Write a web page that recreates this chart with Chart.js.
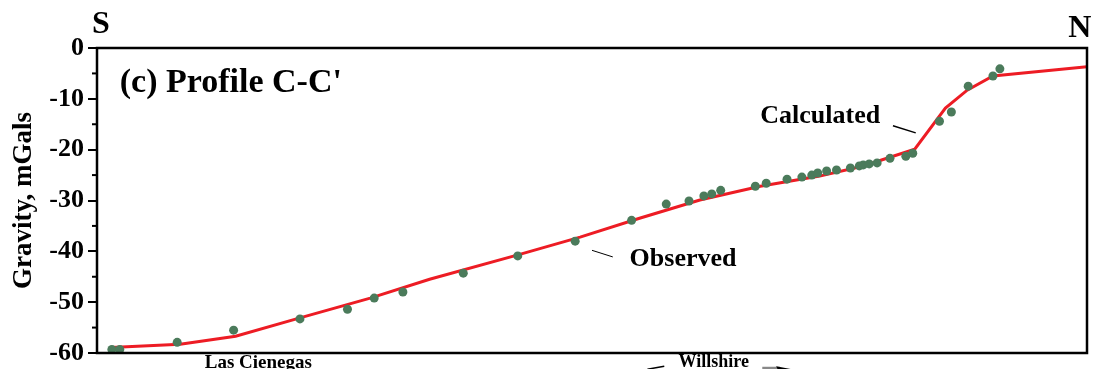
<!DOCTYPE html>
<html>
<head>
<meta charset="utf-8">
<script src="https://cdn.jsdelivr.net/npm/chart.js@4"></script>
<style>
  html, body { margin: 0; padding: 0; background: #fff; }
  #wrap { width: 1096px; height: 369px; }
</style>
</head>
<body>
<div id="wrap"><canvas id="gravityChart" width="1096" height="369"></canvas></div>
<script>
// Profile C-C' - distance along profile (0-100, S to N) and gravity (mGal)
const obsDist = [1.5, 2.3, 8.1, 13.8, 20.5, 25.3, 28.0, 30.9, 37.0, 42.5, 48.3, 54.0,
    57.5, 59.8, 61.3, 62.1, 63.0, 66.5, 67.6, 69.7, 71.2, 72.2, 72.8, 73.7, 74.7,
    76.1, 77.0, 77.4, 78.0, 78.8, 80.1, 81.7, 82.4, 85.1, 86.3, 88.0, 90.5, 91.2];
const obsGrav = [-59.3, -59.3, -57.9, -55.5, -53.3, -51.4, -49.2, -48.0, -44.3, -40.9, -38.0, -33.9,
    -30.7, -30.1, -29.1, -28.7, -28.0, -27.2, -26.6, -25.8, -25.4, -25.0, -24.6, -24.2, -24.0,
    -23.6, -23.2, -23.0, -22.8, -22.6, -21.7, -21.3, -20.7, -14.4, -12.6, -7.5, -5.5, -4.1];

const calcDist = [1.4, 8.4, 14.0, 20.5, 27.6, 33.6, 42.7, 48.8, 54.8, 60.9, 67.0, 73.0,
    77.4, 80.1, 82.6, 85.7, 87.9, 90.5, 100];
const calcGrav = [-58.9, -58.3, -56.7, -53.1, -49.2, -45.5, -40.6, -37.2, -33.5, -29.9, -27.2, -25.2,
    -23.2, -21.5, -19.9, -11.8, -8.3, -5.5, -3.7];

const yMin = -60;
const yMax = 0;

const serif = "'Liberation Serif', 'Times New Roman', serif";

function toPoints(xs, ys) {
    return xs.map((x, i) => ({ x: x, y: ys[i] }));
}

// frame, minor ticks and text labels
const decorations = {
    id: 'decorations',
    afterDraw(chart) {
        const ctx = chart.ctx;
        const a = chart.chartArea;
        const xs = chart.scales.x;
        const ys = chart.scales.y;
        const px = v => xs.getPixelForValue(v);
        const py = v => ys.getPixelForValue(v);

        ctx.save();
        ctx.strokeStyle = '#000';
        ctx.lineWidth = 2.5;
        ctx.strokeRect(a.left, a.top, a.right - a.left, a.bottom - a.top);

        // minor ticks
        ctx.lineWidth = 2;
        for (let v = yMin + 5; v < yMax; v += 10) {
            ctx.beginPath();
            ctx.moveTo(a.left - 5, py(v));
            ctx.lineTo(a.left, py(v));
            ctx.stroke();
        }

        ctx.fillStyle = '#000';
        ctx.textBaseline = 'alphabetic';
        ctx.textAlign = 'left';
        ctx.font = 'bold 32px ' + serif;
        ctx.fillText('S', px(-0.5), py(2.9));
        ctx.fillText('N', px(98.1), py(2.2));

        ctx.font = 'bold 34px ' + serif;
        ctx.fillText("(c) Profile C-C'", px(2.3), py(-8.6));

        ctx.font = 'bold 26px ' + serif;
        ctx.fillText('Calculated', px(67.0), py(-14.8));
        ctx.fillText('Observed', px(53.8), py(-42.9));

        // leader lines
        ctx.lineWidth = 1.5;
        ctx.beginPath();
        ctx.moveTo(px(80.4), py(-15.3));
        ctx.lineTo(px(82.7), py(-16.7));
        ctx.stroke();
        ctx.lineWidth = 1;
        ctx.beginPath();
        ctx.moveTo(px(50.0), py(-39.8));
        ctx.lineTo(px(52.1), py(-41.1));
        ctx.stroke();

        // place names under the axis
        ctx.textAlign = 'center';
        ctx.font = 'bold 19px ' + serif;
        ctx.fillText('Las Cienegas', px(16.3), py(-63.0));
        ctx.font = 'bold 18px ' + serif;
        ctx.fillText('Willshire', px(62.3), py(-62.8));

        // arrows beside Willshire
        ctx.lineWidth = 1.5;
        ctx.beginPath();
        ctx.moveTo(px(57.3), py(-62.6));
        ctx.lineTo(px(55.6), py(-63.2));
        ctx.stroke();
        ctx.strokeStyle = '#888';
        ctx.lineWidth = 3;
        ctx.beginPath();
        ctx.moveTo(px(67.2), py(-63.0));
        ctx.lineTo(px(69.0), py(-63.0));
        ctx.stroke();
        ctx.fillStyle = '#000';
        ctx.beginPath();
        ctx.moveTo(px(70.2), py(-63.2));
        ctx.lineTo(px(68.6), py(-62.6));
        ctx.lineTo(px(68.8), py(-63.4));
        ctx.closePath();
        ctx.fill();
        ctx.restore();
    }
};

new Chart(document.getElementById('gravityChart'), {
    type: 'scatter',
    data: {
        datasets: [
            {
                label: 'Calculated',
                data: toPoints(calcDist, calcGrav),
                showLine: true,
                borderColor: '#ed1c24',
                borderWidth: 3,
                pointRadius: 0,
                fill: false,
                order: 2
            },
            {
                label: 'Observed',
                data: toPoints(obsDist, obsGrav),
                backgroundColor: '#4b7b5b',
                borderWidth: 0,
                pointRadius: 4.5,
                order: 1
            }
        ]
    },
    options: {
        responsive: false,
        animation: false,
        layout: { padding: { left: 0, right: 9, top: 48, bottom: 16 } },
        plugins: {
            legend: { display: false },
            tooltip: { enabled: false }
        },
        scales: {
            x: {
                type: 'linear',
                display: false,
                min: 0,
                max: 100
            },
            y: {
                min: yMin,
                max: yMax,
                afterFit: function(scale) { scale.width = 97; },
                border: { display: false },
                grid: {
                    drawOnChartArea: false,
                    drawTicks: true,
                    tickLength: 9,
                    color: '#000',
                    lineWidth: 2
                },
                ticks: {
                    stepSize: 10,
                    padding: 4,
                    color: '#000',
                    font: { family: serif, size: 26, weight: 'bold', lineHeight: 0.8 }
                },
                title: {
                    display: true,
                    text: 'Gravity, mGals',
                    color: '#000',
                    padding: { top: 8, bottom: 0 },
                    font: { family: serif, size: 27, weight: 'bold' }
                }
            }
        }
    },
    plugins: [decorations]
});
</script>
</body>
</html>
